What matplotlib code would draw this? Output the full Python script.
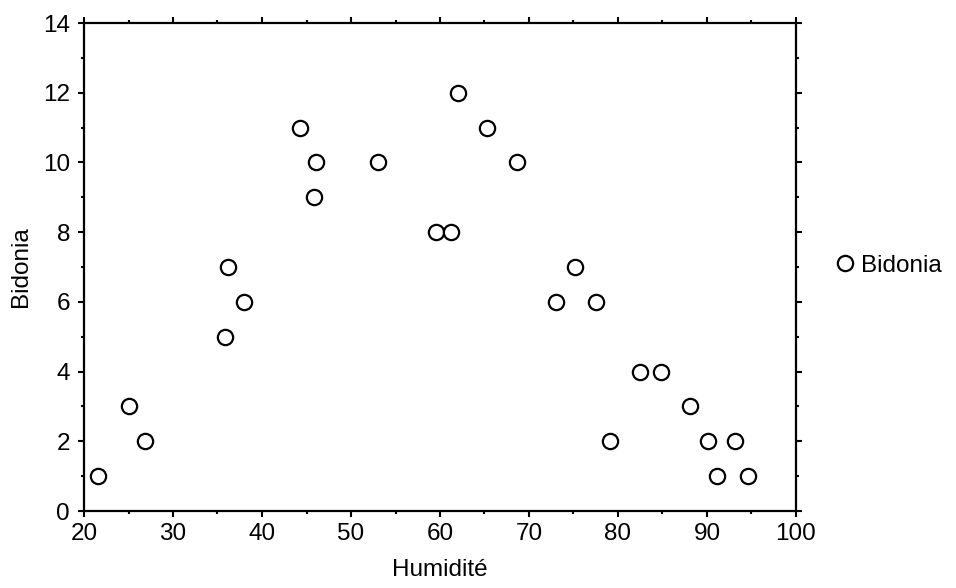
import numpy as np
import matplotlib.pyplot as plt
from matplotlib.ticker import MultipleLocator

# Données
humidite = [21.6, 25.1, 26.9, 35.8, 36.2, 38.0, 44.3, 46.1, 45.8, 53.0,
            59.5, 61.2, 62.0, 65.3, 68.6, 73.0, 75.2, 77.5, 79.1, 82.5,
            84.8, 88.1, 90.1, 91.1, 93.1, 94.6]
bidonia = [1, 3, 2, 5, 7, 6, 11, 10, 9, 10,
           8, 8, 12, 11, 10, 6, 7, 6, 2, 4,
           4, 3, 2, 1, 2, 1]

plt.rcParams['font.family'] = ['Liberation Sans', 'DejaVu Sans']
plt.rcParams['font.size'] = 17.5

fig = plt.figure(figsize=(9.56, 5.88), dpi=100)
# axes de x=84 à 796 px, de y=23 à 511 px
ax = fig.add_axes([84 / 956, 1 - 511 / 588, 712 / 956, 488 / 588])

ax.plot(humidite, bidonia, linestyle='none', marker='o', markersize=11,
        markerfacecolor='white', markeredgecolor='black', markeredgewidth=1.6,
        label='Bidonia')

ax.set_xlim(20, 100)
ax.set_ylim(0, 14)
ax.xaxis.set_major_locator(MultipleLocator(10))
ax.xaxis.set_minor_locator(MultipleLocator(5))
ax.yaxis.set_major_locator(MultipleLocator(2))
ax.yaxis.set_minor_locator(MultipleLocator(1))

for s in ax.spines.values():
    s.set_linewidth(1.6)
ax.tick_params(which='both', direction='out', top=True, right=True, width=1.5)
ax.tick_params(which='major', length=4)
ax.tick_params(axis='y', which='major', pad=6)
ax.tick_params(axis='x', which='major', pad=5)
ax.tick_params(which='minor', length=2)

ax.set_xlabel('Humidité', labelpad=10)
ax.set_ylabel('Bidonia', labelpad=8)

ax.legend(loc='center left', bbox_to_anchor=(1.042, 0.503), frameon=False,
          handlelength=0.8, handletextpad=0.25, borderaxespad=0)

fig.savefig('out.png', dpi=100)
